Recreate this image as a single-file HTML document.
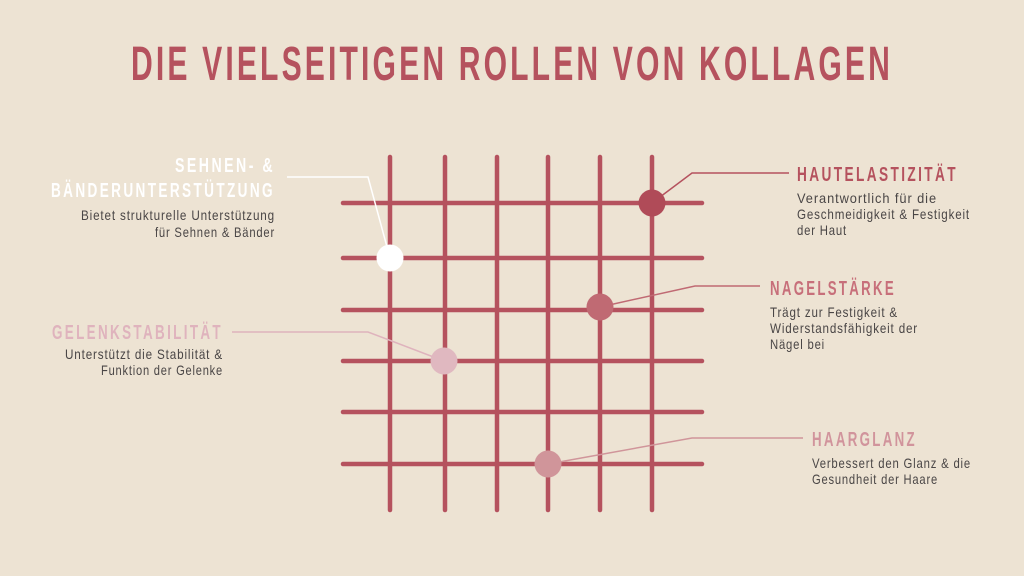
<!DOCTYPE html>
<html><head><meta charset="utf-8"><style>html,body{margin:0;padding:0;background:#ede3d3}svg{display:block}</style></head>
<body>
<svg width="1024" height="576" viewBox="0 0 1024 576" xmlns="http://www.w3.org/2000/svg" font-family="Liberation Sans, sans-serif">
<rect width="1024" height="576" fill="#ede3d3"/>
<text x="131" y="80" font-size="48" font-weight="bold" letter-spacing="5" fill="#b5525e" textLength="762" lengthAdjust="spacingAndGlyphs">DIE VIELSEITIGEN ROLLEN VON KOLLAGEN</text>
<g stroke="#b5525e" stroke-width="4.5" stroke-linecap="round">
<line x1="390" y1="157" x2="390" y2="510"/><line x1="445" y1="157" x2="445" y2="510"/><line x1="497" y1="157" x2="497" y2="510"/><line x1="548" y1="157" x2="548" y2="510"/><line x1="600" y1="157" x2="600" y2="510"/><line x1="652" y1="157" x2="652" y2="510"/>
<line x1="343" y1="203" x2="702" y2="203"/><line x1="343" y1="258" x2="702" y2="258"/><line x1="343" y1="310" x2="702" y2="310"/><line x1="343" y1="361" x2="702" y2="361"/><line x1="343" y1="412" x2="702" y2="412"/><line x1="343" y1="464" x2="702" y2="464"/>
</g>
<g fill="none" stroke-width="1.5">
<polyline points="287,177 368,177 390,258" stroke="#fff"/>
<polyline points="652,203 692,173 789,173" stroke="#b5525e"/>
<polyline points="600,307 695,286 760,286" stroke="#c06a73"/>
<polyline points="232,332 368,332 444,361" stroke="#dfb3bd"/>
<polyline points="548,464 692,438 803,438" stroke="#d0959a"/>
</g>
<circle cx="652" cy="203" r="13.5" fill="#b04b58"/>
<circle cx="390" cy="258" r="13.5" fill="#fff"/>
<circle cx="600" cy="307" r="13.5" fill="#c06a73"/>
<circle cx="444" cy="361" r="13.5" fill="#e0b8c0"/>
<circle cx="548" cy="464" r="13.5" fill="#d0959a"/>
<g font-size="20" font-weight="bold" letter-spacing="3.5">
<text x="175" y="172" fill="#fff" textLength="100" lengthAdjust="spacingAndGlyphs">SEHNEN- &amp;</text>
<text x="51" y="197" fill="#fff" textLength="224" lengthAdjust="spacingAndGlyphs">BÄNDERUNTERSTÜTZUNG</text>
<text x="52" y="339" fill="#dfb3bd" textLength="171" lengthAdjust="spacingAndGlyphs">GELENKSTABILITÄT</text>
<text x="797" y="181" fill="#b5525e" textLength="161" lengthAdjust="spacingAndGlyphs">HAUTELASTIZITÄT</text>
<text x="770" y="295" fill="#c76f7a" textLength="126" lengthAdjust="spacingAndGlyphs">NAGELSTÄRKE</text>
<text x="812" y="446" fill="#d1949c" textLength="105" lengthAdjust="spacingAndGlyphs">HAARGLANZ</text>
</g>
<g font-size="14" fill="#4a4646" letter-spacing="1">
<text x="81" y="220" textLength="194" lengthAdjust="spacingAndGlyphs">Bietet strukturelle Unterstützung</text>
<text x="155" y="237" textLength="120" lengthAdjust="spacingAndGlyphs">für Sehnen &amp; Bänder</text>
<text x="65" y="359" textLength="158" lengthAdjust="spacingAndGlyphs">Unterstützt die Stabilität &amp;</text>
<text x="101" y="375" textLength="122" lengthAdjust="spacingAndGlyphs">Funktion der Gelenke</text>
<text x="797" y="203" textLength="140" lengthAdjust="spacingAndGlyphs">Verantwortlich für die</text>
<text x="797" y="219" textLength="173" lengthAdjust="spacingAndGlyphs">Geschmeidigkeit &amp; Festigkeit</text>
<text x="797" y="235" textLength="50" lengthAdjust="spacingAndGlyphs">der Haut</text>
<text x="770" y="317" textLength="128" lengthAdjust="spacingAndGlyphs">Trägt zur Festigkeit &amp;</text>
<text x="770" y="333" textLength="148" lengthAdjust="spacingAndGlyphs">Widerstandsfähigkeit der</text>
<text x="770" y="349" textLength="55" lengthAdjust="spacingAndGlyphs">Nägel bei</text>
<text x="812" y="468" textLength="159" lengthAdjust="spacingAndGlyphs">Verbessert den Glanz &amp; die</text>
<text x="812" y="484" textLength="126" lengthAdjust="spacingAndGlyphs">Gesundheit der Haare</text>
</g>
</svg>
</body></html>
